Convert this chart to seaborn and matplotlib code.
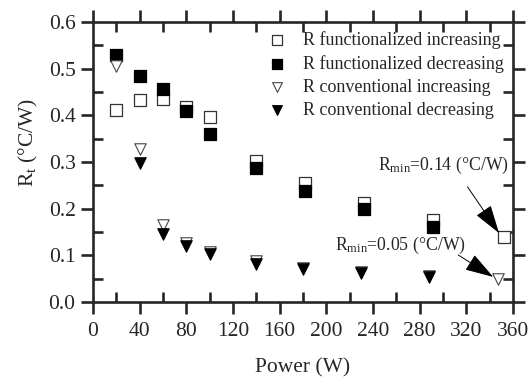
import numpy as np
import pandas as pd
import matplotlib
matplotlib.use("Agg")
import matplotlib.pyplot as plt
import seaborn as sns
from matplotlib.ticker import MultipleLocator, FormatStrFormatter

# --- data ---
power_func_inc = [20, 40, 60, 80, 100, 140, 182, 232, 291, 352]
r_func_inc = [0.412, 0.433, 0.436, 0.418, 0.396, 0.302, 0.255, 0.212, 0.176, 0.139]

power_func_dec = [20, 40, 60, 80, 100, 140, 182, 232, 291]
r_func_dec = [0.530, 0.484, 0.456, 0.409, 0.360, 0.287, 0.238, 0.199, 0.160]

power_conv_inc = [20, 40, 60, 80, 100, 140, 180, 230, 288, 347]
r_conv_inc = [0.505, 0.328, 0.166, 0.126, 0.108, 0.088, 0.073, 0.064, 0.057, 0.049]

power_conv_dec = [40, 60, 80, 100, 140, 180, 230, 288]
r_conv_dec = [0.299, 0.146, 0.120, 0.104, 0.082, 0.070, 0.062, 0.054]

labels = ["R functionalized increasing", "R functionalized decreasing",
          "R conventional increasing", "R conventional decreasing"]

# --- style ---
sns.set_style("ticks")
plt.rcParams["font.family"] = ["Liberation Serif", "DejaVu Serif"]
plt.rcParams["mathtext.fontset"] = "custom"
plt.rcParams["mathtext.rm"] = "Liberation Serif"
plt.rcParams["mathtext.it"] = "Liberation Serif:italic"

fig, ax = plt.subplots(figsize=(5.30, 3.81), dpi=100)
fig.subplots_adjust(left=0.1755, right=0.968, top=0.942, bottom=0.207)

sns.scatterplot(x=power_func_inc, y=r_func_inc, marker="s", s=64, color="white",
                edgecolor="#333333", linewidth=0.9, label=labels[0], ax=ax, zorder=3)
sns.scatterplot(x=power_func_dec, y=r_func_dec, marker="s", s=64, color="black",
                edgecolor="black", linewidth=0.9, label=labels[1], ax=ax, zorder=3)
sns.scatterplot(x=power_conv_inc, y=r_conv_inc, marker="v", s=68, color="white",
                edgecolor="#444444", linewidth=0.8, label=labels[2], ax=ax, zorder=3)
sns.scatterplot(x=power_conv_dec, y=r_conv_dec, marker="v", s=68, color="black",
                edgecolor="black", linewidth=0.8, label=labels[3], ax=ax, zorder=3)

ax.set_xlim(0, 360)
ax.set_ylim(0, 0.6)
ax.xaxis.set_major_locator(MultipleLocator(40))
ax.xaxis.set_minor_locator(MultipleLocator(20))
ax.yaxis.set_major_locator(MultipleLocator(0.1))
ax.yaxis.set_minor_locator(MultipleLocator(0.05))
ax.yaxis.set_major_formatter(FormatStrFormatter("%.1f"))

for s in ax.spines.values():
    s.set_visible(True)
    s.set_linewidth(1.9)
ax.tick_params(which="major", direction="out", length=8.6, width=1.9,
               labelsize=15.5, top=True, right=True)
ax.tick_params(which="minor", direction="in", length=7, width=1.9,
               top=True, right=True)
ax.tick_params(axis="x", which="major", pad=5.5)
ax.tick_params(axis="y", which="major", pad=4)

ax.set_xlabel("Power (W)", fontsize=15.5)
ax.set_ylabel("R$_{\\rm t}$ (°C/W)", fontsize=15.5)
ax.xaxis.set_label_coords(0.5, -0.2)
ax.yaxis.set_label_coords(-0.127, 0.57)

leg = ax.legend(loc="upper right", bbox_to_anchor=(1.0, 1.0), frameon=False,
                fontsize=13, handletextpad=0.45, labelspacing=0.33,
                borderaxespad=0.1, markerscale=0.85)

# annotations
arrow = dict(arrowstyle="-|>,head_length=0.9,head_width=0.28",
             mutation_scale=20, color="black", lw=0.7, shrinkA=0, shrinkB=0)
ax.text(244, 0.283, "R$_{\\rm min}$=0.14 (°C/W)", fontsize=12.8)
ax.annotate("", xy=(348, 0.148), xytext=(321, 0.247), arrowprops=arrow)
ax.text(207, 0.111, "R$_{\\rm min}$=0.05 (°C/W)", fontsize=12.8)
ax.annotate("", xy=(343, 0.054), xytext=(313, 0.101), arrowprops=arrow)

fig.savefig("out.png", dpi=100)
